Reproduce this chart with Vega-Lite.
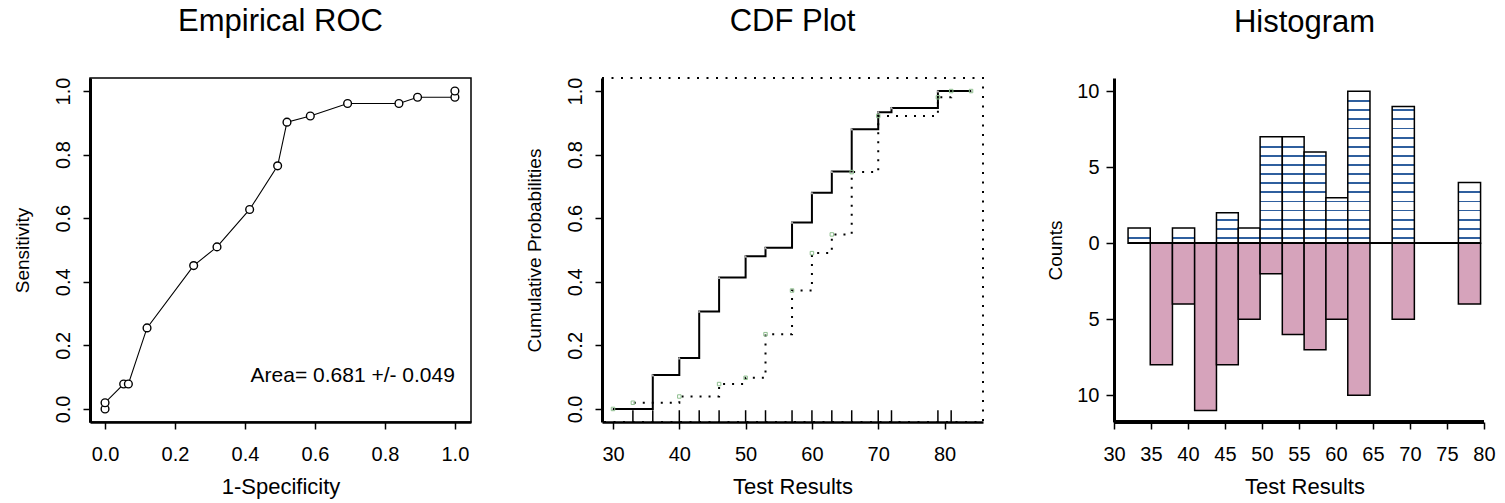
{
  "$schema": "https://vega.github.io/schema/vega-lite/v6.json",
  "background": "white",
  "padding": {"left": 12, "top": 5, "right": 5, "bottom": 5},
  "spacing": 131,
  "bounds": "flush",
  "config": {
    "font": "Liberation Sans",
    "axis": {
      "grid": false, "domainColor": "black", "tickColor": "black", "labelColor": "black", "titleColor": "black",
      "labelFont": "Liberation Sans", "titleFont": "Liberation Sans", "labelFontSize": 20, "titleFontSize": 22,
      "titleFontWeight": "normal", "labelFlush": false, "labelOverlap": false, "labelBound": false,
      "tickWidth": 1.5, "tickSize": 7, "domainWidth": 2.5
    },
    "axisY": {"titleFontSize": 19},
    "title": {"font": "Liberation Sans", "fontSize": 31, "fontWeight": "normal", "color": "black", "frame": "group", "anchor": "middle", "baseline": "alphabetic", "offset": 39}
  },
  "hconcat": [
    {
      "width": 381, "height": 344,
      "title": {"text": "Empirical ROC"},
      "view": {"stroke": "black", "strokeWidth": 1.5},
      "layer": [
        {
          "data": {"values": [
            {"i": 0, "fpr": 0, "tpr": 0},
            {"i": 1, "fpr": 0, "tpr": 0.0196},
            {"i": 2, "fpr": 0.0533, "tpr": 0.0784},
            {"i": 3, "fpr": 0.0667, "tpr": 0.0784},
            {"i": 4, "fpr": 0.12, "tpr": 0.2549},
            {"i": 5, "fpr": 0.2533, "tpr": 0.451},
            {"i": 6, "fpr": 0.32, "tpr": 0.5098},
            {"i": 7, "fpr": 0.4133, "tpr": 0.6275},
            {"i": 8, "fpr": 0.4933, "tpr": 0.7647},
            {"i": 9, "fpr": 0.52, "tpr": 0.902},
            {"i": 10, "fpr": 0.5867, "tpr": 0.9216},
            {"i": 11, "fpr": 0.6933, "tpr": 0.9608},
            {"i": 12, "fpr": 0.84, "tpr": 0.9608},
            {"i": 13, "fpr": 0.8933, "tpr": 0.9804},
            {"i": 14, "fpr": 1, "tpr": 0.9804},
            {"i": 15, "fpr": 1, "tpr": 1}
          ]},
          "mark": {"type": "line", "color": "black", "strokeWidth": 1.1, "point": {"shape": "circle", "filled": false, "color": "black", "size": 60, "strokeWidth": 1.4, "fill": "white"}},
          "encoding": {
            "x": {"field": "fpr", "type": "quantitative",
              "scale": {"domain": [-0.043, 1.046], "nice": false, "zero": false},
              "axis": {"values": [0, 0.2, 0.4, 0.6, 0.8, 1.0], "format": ".1f", "labelBaseline": "alphabetic", "labelPadding": 31,
                "title": "1-Specificity", "titleY": 71, "titleBaseline": "alphabetic"}},
            "y": {"field": "tpr", "type": "quantitative",
              "scale": {"domain": [-0.041, 1.041], "nice": false, "zero": false},
              "axis": {"values": [0, 0.2, 0.4, 0.6, 0.8, 1.0], "format": ".1f", "labelAngle": -90, "labelAlign": "center", "labelBaseline": "alphabetic", "labelPadding": 14,
                "title": "Sensitivity", "titleX": -62, "titleBaseline": "alphabetic", "domainWidth": 3}},
            "order": {"field": "i"}
          }
        },
        {
          "data": {"values": [{"label": "Area= 0.681 +/- 0.049", "fpr": 1, "tpr": 0.086}]},
          "mark": {"type": "text", "align": "right", "baseline": "alphabetic", "fontSize": 21, "font": "Liberation Sans", "color": "black"},
          "encoding": {
            "x": {"field": "fpr", "type": "quantitative",
              "scale": {"domain": [-0.043, 1.046], "nice": false, "zero": false},
              "axis": {"values": [0, 0.2, 0.4, 0.6, 0.8, 1.0], "format": ".1f", "labelBaseline": "alphabetic", "labelPadding": 31,
                "title": "1-Specificity", "titleY": 71, "titleBaseline": "alphabetic"}},
            "y": {"field": "tpr", "type": "quantitative",
              "scale": {"domain": [-0.041, 1.041], "nice": false, "zero": false},
              "axis": {"values": [0, 0.2, 0.4, 0.6, 0.8, 1.0], "format": ".1f", "labelAngle": -90, "labelAlign": "center", "labelBaseline": "alphabetic", "labelPadding": 14,
                "title": "Sensitivity", "titleX": -62, "titleBaseline": "alphabetic", "domainWidth": 3}},
            "text": {"field": "label"}
          }
        }
      ]
    },
    {
      "width": 381, "height": 344,
      "title": {"text": "CDF Plot"},
      "view": {"stroke": "black", "strokeWidth": 2, "strokeDash": [2, 7.5]},
      "layer": [
        {
          "data": {"values": [
            {"x": 30, "p": 0}, {"x": 36, "p": 0.1067}, {"x": 40, "p": 0.16}, {"x": 43, "p": 0.3067},
            {"x": 46, "p": 0.4133}, {"x": 50, "p": 0.48}, {"x": 53, "p": 0.5067}, {"x": 57, "p": 0.5867},
            {"x": 60, "p": 0.68}, {"x": 63, "p": 0.7467}, {"x": 66, "p": 0.88}, {"x": 70, "p": 0.9333},
            {"x": 72, "p": 0.9467}, {"x": 79, "p": 1}, {"x": 84, "p": 1}
          ]},
          "mark": {"type": "line", "interpolate": "step-after", "color": "black", "strokeWidth": 2,
                   "point": {"shape": "triangle-up", "filled": true, "color": "#b0b0b0", "size": 10}},
          "encoding": {
            "x": {"field": "x", "type": "quantitative",
              "scale": {"domain": [28.34, 85.8], "nice": false, "zero": false},
              "axis": {"values": [30, 40, 50, 60, 70, 80], "labelBaseline": "alphabetic", "labelPadding": 31,
                "title": "Test Results", "titleY": 71, "titleBaseline": "alphabetic"}},
            "y": {"field": "p", "type": "quantitative",
              "scale": {"domain": [-0.041, 1.041], "nice": false, "zero": false},
              "axis": {"values": [0, 0.2, 0.4, 0.6, 0.8, 1.0], "format": ".1f", "labelAngle": -90, "labelAlign": "center", "labelBaseline": "alphabetic", "labelPadding": 14,
                "title": "Cumulative Probabilities", "titleX": -62, "titleBaseline": "alphabetic", "domainWidth": 3}}
          }
        },
        {
          "data": {"values": [
            {"x": 30, "p": 0}, {"x": 33, "p": 0.0196}, {"x": 40, "p": 0.0392}, {"x": 46, "p": 0.0784},
            {"x": 50, "p": 0.098}, {"x": 53, "p": 0.2353}, {"x": 57, "p": 0.3725}, {"x": 60, "p": 0.4902},
            {"x": 63, "p": 0.549}, {"x": 66, "p": 0.7451}, {"x": 70, "p": 0.9216}, {"x": 79, "p": 0.9804},
            {"x": 81, "p": 1}, {"x": 84, "p": 1}
          ]},
          "mark": {"type": "line", "interpolate": "step-after", "color": "black", "strokeWidth": 2, "strokeDash": [2, 7],
                   "point": {"shape": "square", "filled": false, "color": "#8fbf8f", "size": 12, "strokeWidth": 1}},
          "encoding": {
            "x": {"field": "x", "type": "quantitative",
              "scale": {"domain": [28.34, 85.8], "nice": false, "zero": false},
              "axis": {"values": [30, 40, 50, 60, 70, 80], "labelBaseline": "alphabetic", "labelPadding": 31,
                "title": "Test Results", "titleY": 71, "titleBaseline": "alphabetic"}},
            "y": {"field": "p", "type": "quantitative",
              "scale": {"domain": [-0.041, 1.041], "nice": false, "zero": false},
              "axis": {"values": [0, 0.2, 0.4, 0.6, 0.8, 1.0], "format": ".1f", "labelAngle": -90, "labelAlign": "center", "labelBaseline": "alphabetic", "labelPadding": 14,
                "title": "Cumulative Probabilities", "titleX": -62, "titleBaseline": "alphabetic", "domainWidth": 3}}
          }
        },
        {
          "data": {"values": [{"x": 33}, {"x": 36}, {"x": 40}, {"x": 43}, {"x": 46}, {"x": 50}, {"x": 53}, {"x": 57}, {"x": 60}, {"x": 63}, {"x": 66}, {"x": 70}, {"x": 72}, {"x": 79}, {"x": 81}]},
          "mark": {"type": "rule", "color": "black", "strokeWidth": 1.5},
          "encoding": {
            "x": {"field": "x", "type": "quantitative",
              "scale": {"domain": [28.34, 85.8], "nice": false, "zero": false},
              "axis": {"values": [30, 40, 50, 60, 70, 80], "labelBaseline": "alphabetic", "labelPadding": 31,
                "title": "Test Results", "titleY": 71, "titleBaseline": "alphabetic"}},
            "y": {"datum": -0.041, "type": "quantitative",
              "scale": {"domain": [-0.041, 1.041], "nice": false, "zero": false},
              "axis": {"values": [0, 0.2, 0.4, 0.6, 0.8, 1.0], "format": ".1f", "labelAngle": -90, "labelAlign": "center", "labelBaseline": "alphabetic", "labelPadding": 14,
                "title": "Cumulative Probabilities", "titleX": -62, "titleBaseline": "alphabetic", "domainWidth": 3}},
            "y2": {"datum": -0.004}
          }
        }
      ]
    },
    {
      "width": 381, "height": 344,
      "title": {"text": "Histogram"},
      "view": {"stroke": null},
      "data": {"values": [
        {"x1": 31.9, "x2": 34.9, "pos": 1, "neg": 0},
        {"x1": 34.9, "x2": 37.9, "pos": 0, "neg": -8},
        {"x1": 37.9, "x2": 40.9, "pos": 1, "neg": -4},
        {"x1": 40.9, "x2": 43.85, "pos": 0, "neg": -11},
        {"x1": 43.85, "x2": 46.8, "pos": 2, "neg": -8},
        {"x1": 46.8, "x2": 49.75, "pos": 1, "neg": -5},
        {"x1": 49.75, "x2": 52.75, "pos": 7, "neg": -2},
        {"x1": 52.75, "x2": 55.7, "pos": 7, "neg": -6},
        {"x1": 55.7, "x2": 58.65, "pos": 6, "neg": -7},
        {"x1": 58.65, "x2": 61.6, "pos": 3, "neg": -5},
        {"x1": 61.6, "x2": 64.6, "pos": 10, "neg": -10},
        {"x1": 67.6, "x2": 70.6, "pos": 9, "neg": -5},
        {"x1": 76.55, "x2": 79.55, "pos": 4, "neg": -4}
      ]},
      "layer": [
        {
          "mark": {"type": "rect", "fill": "#d6a3bb", "stroke": "black", "strokeWidth": 1.5},
          "encoding": {
            "x": {"field": "x1", "type": "quantitative",
              "scale": {"domain": [30, 81.5], "nice": false, "zero": false},
              "axis": {"values": [30, 35, 40, 45, 50, 55, 60, 65, 70, 75, 80], "labelBaseline": "alphabetic", "labelPadding": 31,
                "title": "Test Results", "titleY": 71, "titleBaseline": "alphabetic", "domain": false}},
            "x2": {"field": "x2"},
            "y": {"field": "neg", "type": "quantitative",
              "scale": {"domain": [-11.76, 10.87], "nice": false, "zero": false},
              "axis": {"values": [-10, -5, 0, 5, 10], "labelExpr": "abs(datum.value)", "labelAngle": 0, "labelAlign": "right", "labelBaseline": "middle", "labelPadding": 7, "tickSize": 8,
                "title": "Counts", "titleX": -53, "titleBaseline": "alphabetic", "domainWidth": 3}},
            "y2": {"datum": 0}
          }
        },
        {
          "mark": {"type": "rect", "stroke": "black", "strokeWidth": 1.5},
          "encoding": {
            "x": {"field": "x1", "type": "quantitative",
              "scale": {"domain": [30, 81.5], "nice": false, "zero": false},
              "axis": {"values": [30, 35, 40, 45, 50, 55, 60, 65, 70, 75, 80], "labelBaseline": "alphabetic", "labelPadding": 31,
                "title": "Test Results", "titleY": 71, "titleBaseline": "alphabetic", "domain": false}},
            "x2": {"field": "x2"},
            "y": {"field": "pos", "type": "quantitative",
              "scale": {"domain": [-11.76, 10.87], "nice": false, "zero": false},
              "axis": {"values": [-10, -5, 0, 5, 10], "labelExpr": "abs(datum.value)", "labelAngle": 0, "labelAlign": "right", "labelBaseline": "middle", "labelPadding": 7, "tickSize": 8,
                "title": "Counts", "titleX": -53, "titleBaseline": "alphabetic", "domainWidth": 3}},
            "y2": {"datum": 0},
            "fill": {
              "condition": [
                {"test": "datum.pos == 1", "value": {"gradient": "linear", "x1": 0, "y1": 0, "x2": 0, "y2": 1, "stops": [
                  {"offset": 0, "color": "#ffffff"}, {"offset": 0.59, "color": "#ffffff"}, {"offset": 0.59, "color": "#2f5f9e"}, {"offset": 0.71, "color": "#2f5f9e"}, {"offset": 0.71, "color": "#ffffff"}, {"offset": 1, "color": "#ffffff"}]}},
                {"test": "datum.pos == 2", "value": {"gradient": "linear", "x1": 0, "y1": 0, "x2": 0, "y2": 1, "stops": [
                  {"offset": 0, "color": "#ffffff"},
                  {"offset": 0.195, "color": "#ffffff"}, {"offset": 0.195, "color": "#2f5f9e"}, {"offset": 0.255, "color": "#2f5f9e"}, {"offset": 0.255, "color": "#ffffff"},
                  {"offset": 0.495, "color": "#ffffff"}, {"offset": 0.495, "color": "#2f5f9e"}, {"offset": 0.555, "color": "#2f5f9e"}, {"offset": 0.555, "color": "#ffffff"},
                  {"offset": 0.795, "color": "#ffffff"}, {"offset": 0.795, "color": "#2f5f9e"}, {"offset": 0.855, "color": "#2f5f9e"}, {"offset": 0.855, "color": "#ffffff"},
                  {"offset": 1, "color": "#ffffff"}]}},
                {"test": "datum.pos == 3", "value": {"gradient": "linear", "x1": 0, "y1": 0, "x2": 0, "y2": 1, "stops": [
                  {"offset": 0, "color": "#ffffff"},
                  {"offset": 0.0633, "color": "#ffffff"}, {"offset": 0.0633, "color": "#2f5f9e"}, {"offset": 0.1033, "color": "#2f5f9e"}, {"offset": 0.1033, "color": "#ffffff"},
                  {"offset": 0.2633, "color": "#ffffff"}, {"offset": 0.2633, "color": "#2f5f9e"}, {"offset": 0.3033, "color": "#2f5f9e"}, {"offset": 0.3033, "color": "#ffffff"},
                  {"offset": 0.4633, "color": "#ffffff"}, {"offset": 0.4633, "color": "#2f5f9e"}, {"offset": 0.5033, "color": "#2f5f9e"}, {"offset": 0.5033, "color": "#ffffff"},
                  {"offset": 0.6633, "color": "#ffffff"}, {"offset": 0.6633, "color": "#2f5f9e"}, {"offset": 0.7033, "color": "#2f5f9e"}, {"offset": 0.7033, "color": "#ffffff"},
                  {"offset": 0.8633, "color": "#ffffff"}, {"offset": 0.8633, "color": "#2f5f9e"}, {"offset": 0.9033, "color": "#2f5f9e"}, {"offset": 0.9033, "color": "#ffffff"},
                  {"offset": 1, "color": "#ffffff"}]}},
                {"test": "datum.pos == 4", "value": {"gradient": "linear", "x1": 0, "y1": 0, "x2": 0, "y2": 1, "stops": [
                  {"offset": 0, "color": "#ffffff"},
                  {"offset": 0.1475, "color": "#ffffff"}, {"offset": 0.1475, "color": "#2f5f9e"}, {"offset": 0.1775, "color": "#2f5f9e"}, {"offset": 0.1775, "color": "#ffffff"},
                  {"offset": 0.2975, "color": "#ffffff"}, {"offset": 0.2975, "color": "#2f5f9e"}, {"offset": 0.3275, "color": "#2f5f9e"}, {"offset": 0.3275, "color": "#ffffff"},
                  {"offset": 0.4475, "color": "#ffffff"}, {"offset": 0.4475, "color": "#2f5f9e"}, {"offset": 0.4775, "color": "#2f5f9e"}, {"offset": 0.4775, "color": "#ffffff"},
                  {"offset": 0.5975, "color": "#ffffff"}, {"offset": 0.5975, "color": "#2f5f9e"}, {"offset": 0.6275, "color": "#2f5f9e"}, {"offset": 0.6275, "color": "#ffffff"},
                  {"offset": 0.7475, "color": "#ffffff"}, {"offset": 0.7475, "color": "#2f5f9e"}, {"offset": 0.7775, "color": "#2f5f9e"}, {"offset": 0.7775, "color": "#ffffff"},
                  {"offset": 0.8975, "color": "#ffffff"}, {"offset": 0.8975, "color": "#2f5f9e"}, {"offset": 0.9275, "color": "#2f5f9e"}, {"offset": 0.9275, "color": "#ffffff"},
                  {"offset": 1, "color": "#ffffff"}]}},
                {"test": "datum.pos == 6", "value": {"gradient": "linear", "x1": 0, "y1": 0, "x2": 0, "y2": 1, "stops": [
                  {"offset": 0, "color": "#ffffff"},
                  {"offset": 0.0317, "color": "#ffffff"}, {"offset": 0.0317, "color": "#2f5f9e"}, {"offset": 0.0517, "color": "#2f5f9e"}, {"offset": 0.0517, "color": "#ffffff"},
                  {"offset": 0.1317, "color": "#ffffff"}, {"offset": 0.1317, "color": "#2f5f9e"}, {"offset": 0.1517, "color": "#2f5f9e"}, {"offset": 0.1517, "color": "#ffffff"},
                  {"offset": 0.2317, "color": "#ffffff"}, {"offset": 0.2317, "color": "#2f5f9e"}, {"offset": 0.2517, "color": "#2f5f9e"}, {"offset": 0.2517, "color": "#ffffff"},
                  {"offset": 0.3317, "color": "#ffffff"}, {"offset": 0.3317, "color": "#2f5f9e"}, {"offset": 0.3517, "color": "#2f5f9e"}, {"offset": 0.3517, "color": "#ffffff"},
                  {"offset": 0.4317, "color": "#ffffff"}, {"offset": 0.4317, "color": "#2f5f9e"}, {"offset": 0.4517, "color": "#2f5f9e"}, {"offset": 0.4517, "color": "#ffffff"},
                  {"offset": 0.5317, "color": "#ffffff"}, {"offset": 0.5317, "color": "#2f5f9e"}, {"offset": 0.5517, "color": "#2f5f9e"}, {"offset": 0.5517, "color": "#ffffff"},
                  {"offset": 0.6317, "color": "#ffffff"}, {"offset": 0.6317, "color": "#2f5f9e"}, {"offset": 0.6517, "color": "#2f5f9e"}, {"offset": 0.6517, "color": "#ffffff"},
                  {"offset": 0.7317, "color": "#ffffff"}, {"offset": 0.7317, "color": "#2f5f9e"}, {"offset": 0.7517, "color": "#2f5f9e"}, {"offset": 0.7517, "color": "#ffffff"},
                  {"offset": 0.8317, "color": "#ffffff"}, {"offset": 0.8317, "color": "#2f5f9e"}, {"offset": 0.8517, "color": "#2f5f9e"}, {"offset": 0.8517, "color": "#ffffff"},
                  {"offset": 0.9317, "color": "#ffffff"}, {"offset": 0.9317, "color": "#2f5f9e"}, {"offset": 0.9517, "color": "#2f5f9e"}, {"offset": 0.9517, "color": "#ffffff"},
                  {"offset": 1, "color": "#ffffff"}]}},
                {"test": "datum.pos == 7", "value": {"gradient": "linear", "x1": 0, "y1": 0, "x2": 0, "y2": 1, "stops": [
                  {"offset": 0, "color": "#ffffff"},
                  {"offset": 0.0843, "color": "#ffffff"}, {"offset": 0.0843, "color": "#2f5f9e"}, {"offset": 0.1015, "color": "#2f5f9e"}, {"offset": 0.1015, "color": "#ffffff"},
                  {"offset": 0.17, "color": "#ffffff"}, {"offset": 0.17, "color": "#2f5f9e"}, {"offset": 0.1872, "color": "#2f5f9e"}, {"offset": 0.1872, "color": "#ffffff"},
                  {"offset": 0.2557, "color": "#ffffff"}, {"offset": 0.2557, "color": "#2f5f9e"}, {"offset": 0.2729, "color": "#2f5f9e"}, {"offset": 0.2729, "color": "#ffffff"},
                  {"offset": 0.3414, "color": "#ffffff"}, {"offset": 0.3414, "color": "#2f5f9e"}, {"offset": 0.3586, "color": "#2f5f9e"}, {"offset": 0.3586, "color": "#ffffff"},
                  {"offset": 0.4271, "color": "#ffffff"}, {"offset": 0.4271, "color": "#2f5f9e"}, {"offset": 0.4443, "color": "#2f5f9e"}, {"offset": 0.4443, "color": "#ffffff"},
                  {"offset": 0.5128, "color": "#ffffff"}, {"offset": 0.5128, "color": "#2f5f9e"}, {"offset": 0.53, "color": "#2f5f9e"}, {"offset": 0.53, "color": "#ffffff"},
                  {"offset": 0.5985, "color": "#ffffff"}, {"offset": 0.5985, "color": "#2f5f9e"}, {"offset": 0.6157, "color": "#2f5f9e"}, {"offset": 0.6157, "color": "#ffffff"},
                  {"offset": 0.6843, "color": "#ffffff"}, {"offset": 0.6843, "color": "#2f5f9e"}, {"offset": 0.7015, "color": "#2f5f9e"}, {"offset": 0.7015, "color": "#ffffff"},
                  {"offset": 0.77, "color": "#ffffff"}, {"offset": 0.77, "color": "#2f5f9e"}, {"offset": 0.7872, "color": "#2f5f9e"}, {"offset": 0.7872, "color": "#ffffff"},
                  {"offset": 0.8557, "color": "#ffffff"}, {"offset": 0.8557, "color": "#2f5f9e"}, {"offset": 0.8729, "color": "#2f5f9e"}, {"offset": 0.8729, "color": "#ffffff"},
                  {"offset": 0.9414, "color": "#ffffff"}, {"offset": 0.9414, "color": "#2f5f9e"}, {"offset": 0.9586, "color": "#2f5f9e"}, {"offset": 0.9586, "color": "#ffffff"},
                  {"offset": 1, "color": "#ffffff"}]}},
                {"test": "datum.pos == 9", "value": {"gradient": "linear", "x1": 0, "y1": 0, "x2": 0, "y2": 1, "stops": [
                  {"offset": 0, "color": "#ffffff"},
                  {"offset": 0.0211, "color": "#ffffff"}, {"offset": 0.0211, "color": "#2f5f9e"}, {"offset": 0.0345, "color": "#2f5f9e"}, {"offset": 0.0345, "color": "#ffffff"},
                  {"offset": 0.0877, "color": "#ffffff"}, {"offset": 0.0877, "color": "#2f5f9e"}, {"offset": 0.1011, "color": "#2f5f9e"}, {"offset": 0.1011, "color": "#ffffff"},
                  {"offset": 0.1544, "color": "#ffffff"}, {"offset": 0.1544, "color": "#2f5f9e"}, {"offset": 0.1678, "color": "#2f5f9e"}, {"offset": 0.1678, "color": "#ffffff"},
                  {"offset": 0.2211, "color": "#ffffff"}, {"offset": 0.2211, "color": "#2f5f9e"}, {"offset": 0.2345, "color": "#2f5f9e"}, {"offset": 0.2345, "color": "#ffffff"},
                  {"offset": 0.2877, "color": "#ffffff"}, {"offset": 0.2877, "color": "#2f5f9e"}, {"offset": 0.3011, "color": "#2f5f9e"}, {"offset": 0.3011, "color": "#ffffff"},
                  {"offset": 0.3544, "color": "#ffffff"}, {"offset": 0.3544, "color": "#2f5f9e"}, {"offset": 0.3678, "color": "#2f5f9e"}, {"offset": 0.3678, "color": "#ffffff"},
                  {"offset": 0.4211, "color": "#ffffff"}, {"offset": 0.4211, "color": "#2f5f9e"}, {"offset": 0.4345, "color": "#2f5f9e"}, {"offset": 0.4345, "color": "#ffffff"},
                  {"offset": 0.4877, "color": "#ffffff"}, {"offset": 0.4877, "color": "#2f5f9e"}, {"offset": 0.5011, "color": "#2f5f9e"}, {"offset": 0.5011, "color": "#ffffff"},
                  {"offset": 0.5544, "color": "#ffffff"}, {"offset": 0.5544, "color": "#2f5f9e"}, {"offset": 0.5678, "color": "#2f5f9e"}, {"offset": 0.5678, "color": "#ffffff"},
                  {"offset": 0.6211, "color": "#ffffff"}, {"offset": 0.6211, "color": "#2f5f9e"}, {"offset": 0.6345, "color": "#2f5f9e"}, {"offset": 0.6345, "color": "#ffffff"},
                  {"offset": 0.6877, "color": "#ffffff"}, {"offset": 0.6877, "color": "#2f5f9e"}, {"offset": 0.7011, "color": "#2f5f9e"}, {"offset": 0.7011, "color": "#ffffff"},
                  {"offset": 0.7544, "color": "#ffffff"}, {"offset": 0.7544, "color": "#2f5f9e"}, {"offset": 0.7678, "color": "#2f5f9e"}, {"offset": 0.7678, "color": "#ffffff"},
                  {"offset": 0.8211, "color": "#ffffff"}, {"offset": 0.8211, "color": "#2f5f9e"}, {"offset": 0.8345, "color": "#2f5f9e"}, {"offset": 0.8345, "color": "#ffffff"},
                  {"offset": 0.8877, "color": "#ffffff"}, {"offset": 0.8877, "color": "#2f5f9e"}, {"offset": 0.9011, "color": "#2f5f9e"}, {"offset": 0.9011, "color": "#ffffff"},
                  {"offset": 0.9544, "color": "#ffffff"}, {"offset": 0.9544, "color": "#2f5f9e"}, {"offset": 0.9678, "color": "#2f5f9e"}, {"offset": 0.9678, "color": "#ffffff"},
                  {"offset": 1, "color": "#ffffff"}]}},
                {"test": "datum.pos == 10", "value": {"gradient": "linear", "x1": 0, "y1": 0, "x2": 0, "y2": 1, "stops": [
                  {"offset": 0, "color": "#ffffff"},
                  {"offset": 0.059, "color": "#ffffff"}, {"offset": 0.059, "color": "#2f5f9e"}, {"offset": 0.071, "color": "#2f5f9e"}, {"offset": 0.071, "color": "#ffffff"},
                  {"offset": 0.119, "color": "#ffffff"}, {"offset": 0.119, "color": "#2f5f9e"}, {"offset": 0.131, "color": "#2f5f9e"}, {"offset": 0.131, "color": "#ffffff"},
                  {"offset": 0.179, "color": "#ffffff"}, {"offset": 0.179, "color": "#2f5f9e"}, {"offset": 0.191, "color": "#2f5f9e"}, {"offset": 0.191, "color": "#ffffff"},
                  {"offset": 0.239, "color": "#ffffff"}, {"offset": 0.239, "color": "#2f5f9e"}, {"offset": 0.251, "color": "#2f5f9e"}, {"offset": 0.251, "color": "#ffffff"},
                  {"offset": 0.299, "color": "#ffffff"}, {"offset": 0.299, "color": "#2f5f9e"}, {"offset": 0.311, "color": "#2f5f9e"}, {"offset": 0.311, "color": "#ffffff"},
                  {"offset": 0.359, "color": "#ffffff"}, {"offset": 0.359, "color": "#2f5f9e"}, {"offset": 0.371, "color": "#2f5f9e"}, {"offset": 0.371, "color": "#ffffff"},
                  {"offset": 0.419, "color": "#ffffff"}, {"offset": 0.419, "color": "#2f5f9e"}, {"offset": 0.431, "color": "#2f5f9e"}, {"offset": 0.431, "color": "#ffffff"},
                  {"offset": 0.479, "color": "#ffffff"}, {"offset": 0.479, "color": "#2f5f9e"}, {"offset": 0.491, "color": "#2f5f9e"}, {"offset": 0.491, "color": "#ffffff"},
                  {"offset": 0.539, "color": "#ffffff"}, {"offset": 0.539, "color": "#2f5f9e"}, {"offset": 0.551, "color": "#2f5f9e"}, {"offset": 0.551, "color": "#ffffff"},
                  {"offset": 0.599, "color": "#ffffff"}, {"offset": 0.599, "color": "#2f5f9e"}, {"offset": 0.611, "color": "#2f5f9e"}, {"offset": 0.611, "color": "#ffffff"},
                  {"offset": 0.659, "color": "#ffffff"}, {"offset": 0.659, "color": "#2f5f9e"}, {"offset": 0.671, "color": "#2f5f9e"}, {"offset": 0.671, "color": "#ffffff"},
                  {"offset": 0.719, "color": "#ffffff"}, {"offset": 0.719, "color": "#2f5f9e"}, {"offset": 0.731, "color": "#2f5f9e"}, {"offset": 0.731, "color": "#ffffff"},
                  {"offset": 0.779, "color": "#ffffff"}, {"offset": 0.779, "color": "#2f5f9e"}, {"offset": 0.791, "color": "#2f5f9e"}, {"offset": 0.791, "color": "#ffffff"},
                  {"offset": 0.839, "color": "#ffffff"}, {"offset": 0.839, "color": "#2f5f9e"}, {"offset": 0.851, "color": "#2f5f9e"}, {"offset": 0.851, "color": "#ffffff"},
                  {"offset": 0.899, "color": "#ffffff"}, {"offset": 0.899, "color": "#2f5f9e"}, {"offset": 0.911, "color": "#2f5f9e"}, {"offset": 0.911, "color": "#ffffff"},
                  {"offset": 0.959, "color": "#ffffff"}, {"offset": 0.959, "color": "#2f5f9e"}, {"offset": 0.971, "color": "#2f5f9e"}, {"offset": 0.971, "color": "#ffffff"},
                  {"offset": 1, "color": "#ffffff"}]}}
              ],
              "value": "#ffffff"
            }
          }
        },
        {
          "mark": {"type": "rule", "color": "black", "strokeWidth": 1.2},
          "encoding": {
            "x": {"datum": 31.9, "type": "quantitative",
              "scale": {"domain": [30, 81.5], "nice": false, "zero": false},
              "axis": {"values": [30, 35, 40, 45, 50, 55, 60, 65, 70, 75, 80], "labelBaseline": "alphabetic", "labelPadding": 31,
                "title": "Test Results", "titleY": 71, "titleBaseline": "alphabetic", "domain": false}},
            "x2": {"datum": 79.55},
            "y": {"datum": 0, "type": "quantitative",
              "scale": {"domain": [-11.76, 10.87], "nice": false, "zero": false},
              "axis": {"values": [-10, -5, 0, 5, 10], "labelExpr": "abs(datum.value)", "labelAngle": 0, "labelAlign": "right", "labelBaseline": "middle", "labelPadding": 7, "tickSize": 8,
                "title": "Counts", "titleX": -53, "titleBaseline": "alphabetic", "domainWidth": 3}}
          }
        },
        {
          "mark": {"type": "rule", "color": "black", "strokeWidth": 2.5},
          "encoding": {
            "x": {"datum": 30, "type": "quantitative",
              "scale": {"domain": [30, 81.5], "nice": false, "zero": false},
              "axis": {"values": [30, 35, 40, 45, 50, 55, 60, 65, 70, 75, 80], "labelBaseline": "alphabetic", "labelPadding": 31,
                "title": "Test Results", "titleY": 71, "titleBaseline": "alphabetic", "domain": false}},
            "x2": {"datum": 80},
            "y": {"datum": -11.76, "type": "quantitative",
              "scale": {"domain": [-11.76, 10.87], "nice": false, "zero": false},
              "axis": {"values": [-10, -5, 0, 5, 10], "labelExpr": "abs(datum.value)", "labelAngle": 0, "labelAlign": "right", "labelBaseline": "middle", "labelPadding": 7, "tickSize": 8,
                "title": "Counts", "titleX": -53, "titleBaseline": "alphabetic", "domainWidth": 3}}
          }
        }
      ]
    }
  ]
}
